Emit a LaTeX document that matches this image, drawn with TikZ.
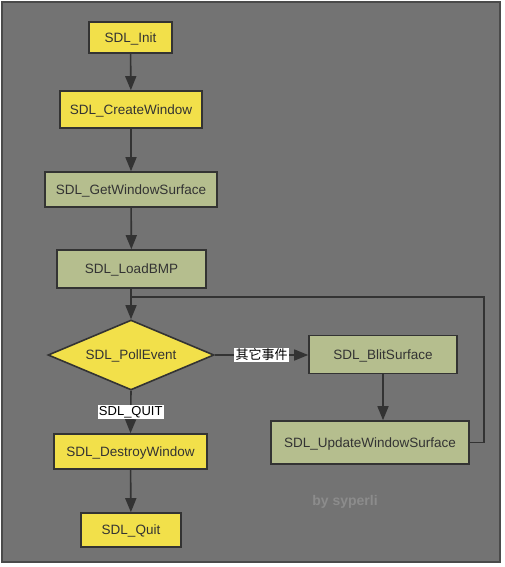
\documentclass[tikz,border=0pt]{standalone}
\usepackage{fontspec}
\setmainfont{Liberation Sans}
\newfontfamily\cjk{Noto Sans CJK SC}
\usetikzlibrary{arrows.meta,shapes.geometric}
\definecolor{bg}{HTML}{737373}
\definecolor{frame}{HTML}{4A4A4A}
\definecolor{ink}{HTML}{333333}
\definecolor{yel}{HTML}{F2E04A}
\definecolor{grn}{HTML}{B5BE8E}
\definecolor{sig}{HTML}{8C8C8C}
\tikzset{
  box/.style={draw=ink, line width=1.6pt, inner sep=0pt, text=ink, text height=9.6pt, text depth=0pt, font=\fontsize{13.5}{15}\selectfont},
  ybox/.style={box, fill=yel},
  gbox/.style={box, fill=grn},
  conn/.style={draw=ink, line width=1.6pt, -{Triangle[length=14pt,width=11pt]}},
  line/.style={draw=ink, line width=1.6pt},
  lab/.style={fill=white, inner sep=1.2pt, text=black, font=\fontsize{13}{15}\selectfont}
}
\begin{document}
\begin{tikzpicture}[x=1pt,y=-1pt]
\useasboundingbox (0,0) rectangle (504,567);
\fill[white] (0,0) rectangle (504,567);
\draw[frame, line width=2pt, fill=bg] (2,2) rectangle (500,562);

\node[ybox, minimum width=83pt, minimum height=31pt] (init) at (130.5,37.5) {SDL\_Init};
\node[ybox, minimum width=142pt, minimum height=37pt] (create) at (131,109.5) {SDL\_CreateWindow};
\node[gbox, minimum width=172pt, minimum height=35pt] (surf) at (131,189.5) {SDL\_GetWindowSurface};
\node[gbox, minimum width=149pt, minimum height=38pt] (load) at (131.5,269) {SDL\_LoadBMP};
\node[ybox, shape=diamond, aspect=2.37, minimum width=166pt, minimum height=70pt] (poll) at (131,355) {SDL\_PollEvent};
\node[gbox, minimum width=148pt, minimum height=38pt] (blit) at (383,354.5) {SDL\_BlitSurface};
\node[gbox, minimum width=198pt, minimum height=43pt] (update) at (370,442.5) {SDL\_UpdateWindowSurface};
\node[ybox, minimum width=153pt, minimum height=35pt] (destroy) at (130.5,451.5) {SDL\_DestroyWindow};
\node[ybox, minimum width=100pt, minimum height=34pt] (quit) at (131,530) {SDL\_Quit};

\coordinate (corner) at (484,297);
\coordinate (join) at (131,297);

\draw[conn] (init) -- (create);
\draw[conn] (create) -- (surf);
\draw[conn] (surf) -- (load);
\draw[conn] (load.south -| poll.north) -- (poll.north);
\draw[line] (update.east) -| (corner) -- (join);
\draw[conn] (poll.east) -- node[lab] {\cjk 其它事件} (blit.west |- poll.east);
\draw[conn] (blit) -- (blit.south |- update.north);
\draw[conn] (poll.south) -- node[lab] {SDL\_QUIT} (destroy.north);
\draw[conn] (destroy) -- (quit);

\node[text=sig, font=\bfseries\fontsize{14}{16}\selectfont] (sign) at (345,502) {by syperli};
\end{tikzpicture}
\end{document}
